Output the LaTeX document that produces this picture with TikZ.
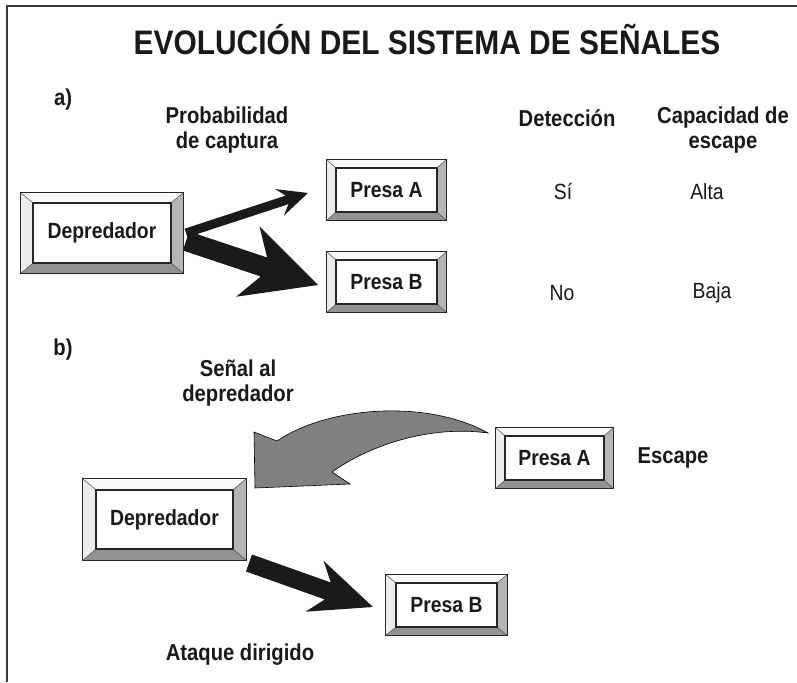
\documentclass[tikz,border=0pt]{standalone}
\usepackage{fontspec}
\setmainfont{Liberation Sans}[FakeStretch=0.88]
\usetikzlibrary{calc}
\definecolor{bevT}{HTML}{FAFAFA}
\definecolor{bevL}{HTML}{EDEDED}
\definecolor{bevR}{HTML}{B5B5B5}
\definecolor{bevB}{HTML}{939393}
\definecolor{framec}{HTML}{3A3A3A}
\definecolor{sigfill}{HTML}{808080}
\definecolor{arrowc}{HTML}{1A1A1A}
\newcommand\bevel[3]{%
  \coordinate (o1) at ($(#1.north west)+(-#2pt,#3pt)$);
  \coordinate (o2) at ($(#1.north east)+(#2pt,#3pt)$);
  \coordinate (o3) at ($(#1.south east)+(#2pt,-#3pt)$);
  \coordinate (o4) at ($(#1.south west)+(-#2pt,-#3pt)$);
  \fill[bevT] (o1) -- (o2) -- (#1.north east) -- (#1.north west) -- cycle;
  \fill[bevL] (o1) -- (#1.north west) -- (#1.south west) -- (o4) -- cycle;
  \fill[bevR] (o2) -- (o3) -- (#1.south east) -- (#1.north east) -- cycle;
  \fill[bevB] (o4) -- (#1.south west) -- (#1.south east) -- (o3) -- cycle;
  \draw[line width=0.5pt, black!70] (o1) -- (#1.north west) (o2) -- (#1.north east)
     (o3) -- (#1.south east) (o4) -- (#1.south west);
  \draw[line width=1.1pt, black!85] (o1) rectangle (o3);
  \draw[line width=1.1pt, black!85] (#1.north west) rectangle (#1.south east);
}
\newcommand\blockarrow[6]{%
  \coordinate (bj) at ($(#2)!#6!(#1)$);
  \coordinate (bb) at ($(#2)!#4!(#1)$);
  \fill[arrowc] ($(#1)!#3!90:(#2)$) -- ($(bj)!#3!90:(#2)$) -- ($(bb)!#5!90:(#2)$) -- (#2)
    -- ($(bb)!#5!-90:(#2)$) -- ($(bj)!#3!-90:(#2)$) -- ($(#1)!#3!-90:(#2)$) -- cycle;
}
\tikzset{
  box/.style={draw=black!85, line width=1.1pt, fill=white, inner sep=0pt,
    font=\fontsize{22}{26}\selectfont\bfseries, text=black!90},
  lbl/.style={inner sep=0pt, align=center, font=\fontsize{23}{25}\selectfont\bfseries, text=black!90},
  val/.style={inner sep=0pt, font=\fontsize{22}{26}\selectfont, text=black!90},
}
\begin{document}
\begin{tikzpicture}[x=1pt,y=-1pt]
\useasboundingbox (0,0) rectangle (797,682);
\fill[white] (0,0) rectangle (797,682);
\draw[framec, line width=2pt] (7,682) -- (7,6) -- (797,6);

\node[inner sep=0pt, font=\fontsize{34}{40}\selectfont\bfseries, text=black!90] (title) at (427,40) {EVOLUCIÓN DEL SISTEMA DE SEÑALES};

% part a
\node[lbl] (la) at (63,100) {a)};
\node[lbl] (prob) at (227,130) {Probabilidad\\de captura};
\node[lbl] (det) at (567,118) {Detección};
\node[lbl] (cap) at (723,130) {Capacidad de\\escape};
\node[val] (si) at (563,192) {Sí};
\node[val] (alta) at (707,192) {Alta};
\node[val] (no) at (562,293) {No};
\node[val] (baja) at (712,293) {Baja};

\node[box, minimum width=138pt, minimum height=60pt] (depA) at (102,233) {Depredador};
\bevel{depA}{12}{10}
\node[box, minimum width=101pt, minimum height=44pt] (preAa) at (386.5,190) {Presa A};
\bevel{preAa}{9}{8}
\node[box, minimum width=101pt, minimum height=44pt] (preBa) at (386.5,282) {Presa B};
\bevel{preBa}{9}{8}

\coordinate (s1) at (186,233);
\coordinate (t1) at (308,193);
\blockarrow{s1}{t1}{4.5pt}{30pt}{14pt}{22pt}
\coordinate (s2) at (186,241);
\coordinate (t2) at (318,285);
\blockarrow{s2}{t2}{10pt}{74pt}{37pt}{57pt}

% part b
\node[lbl] (lb) at (63,350) {b)};
\node[lbl] (senal) at (238,383) {Señal al\\depredador};
\node[lbl] (esc) at (673,458) {Escape};
\node[lbl] (ataque) at (240,655) {Ataque dirigido};

\node[box, minimum width=137pt, minimum height=59pt] (depB) at (164.5,519.5) {Depredador};
\bevel{depB}{13}{11}
\node[box, minimum width=99pt, minimum height=44pt] (preAb) at (554.5,458) {Presa A};
\bevel{preAb}{9}{8}
\node[box, minimum width=101pt, minimum height=44pt] (preBb) at (446.5,605) {Presa B};
\bevel{preBb}{10}{8}

\coordinate (s3) at (249,563);
\coordinate (t3) at (373,607);
\blockarrow{s3}{t3}{9pt}{62pt}{27pt}{48pt}

\coordinate (gT) at (488,433);
\coordinate (gU) at (277,441);
\coordinate (gB1) at (254,432);
\coordinate (gP) at (255,488);
\coordinate (gB2) at (350,484);
\coordinate (gN) at (332,472);
\filldraw[fill=sigfill, draw=black, line width=0.6pt]
  (gT) .. controls (430,400) and (330,405) .. (gU) -- (gB1) -- (gP) -- (gB2) -- (gN)
  .. controls (370,445) and (430,425) .. (gT) -- cycle;
\end{tikzpicture}
\end{document}
